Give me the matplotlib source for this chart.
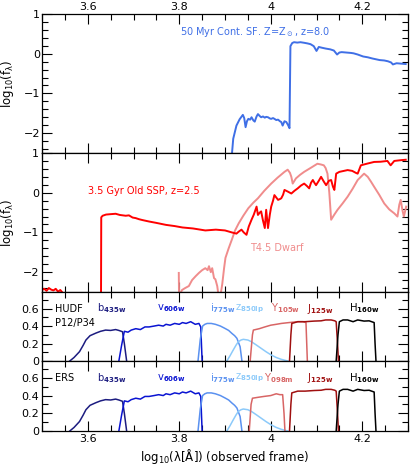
import matplotlib
matplotlib.use("Agg")
import matplotlib.pyplot as plt
from matplotlib.ticker import MultipleLocator

plt.rcParams['font.family'] = ['DejaVu Sans']
plt.rcParams['mathtext.fontset'] = 'dejavusans'

# ---- data ----
sf_x = [3.9146, 3.918, 3.925, 3.932, 3.939, 3.942, 3.945, 3.948, 3.951, 3.955, 3.958, 3.962, 3.965,
        3.969, 3.972, 3.976, 3.979, 3.983, 3.987, 3.990, 3.994, 3.998, 4.001, 4.005, 4.008, 4.012,
        4.016, 4.020, 4.023, 4.026, 4.030, 4.034, 4.038, 4.041, 4.043, 4.047, 4.051, 4.058, 4.065,
        4.073, 4.080, 4.087, 4.094, 4.100, 4.105, 4.112, 4.120, 4.130, 4.138, 4.145, 4.150, 4.155,
        4.165, 4.175, 4.181, 4.190, 4.202, 4.212, 4.222, 4.230, 4.238, 4.248, 4.256, 4.263, 4.267,
        4.275, 4.285, 4.295]
sf_y = [-2.6, -2.14, -1.81, -1.65, -1.54, -1.62, -1.85, -1.70, -1.64, -1.66, -1.60, -1.68, -1.71,
        -1.58, -1.52, -1.57, -1.60, -1.58, -1.61, -1.59, -1.60, -1.63, -1.64, -1.62, -1.64, -1.67,
        -1.66, -1.70, -1.72, -1.81, -1.70, -1.72, -1.80, -1.875, 0.19, 0.27, 0.29, 0.28, 0.29,
        0.275, 0.26, 0.24, 0.19, 0.07, 0.17, 0.15, 0.13, 0.11, 0.08, -0.02, 0.03, 0.04,
        0.03, 0.02, 0.01, -0.02, -0.07, -0.09, -0.12, -0.14, -0.16, -0.17, -0.19, -0.22, -0.27,
        -0.24, -0.25, -0.26]

ssp_x = [3.500, 3.505, 3.510, 3.515, 3.520, 3.525, 3.530, 3.535, 3.540, 3.545, 3.5505, 3.629, 3.6295,
         3.6325, 3.640, 3.650, 3.661, 3.670, 3.683, 3.690, 3.698, 3.705, 3.712, 3.720, 3.734, 3.750,
         3.771, 3.790, 3.807, 3.830, 3.857, 3.880, 3.900, 3.915, 3.925, 3.930, 3.936, 3.941, 3.947,
         3.952, 3.958, 3.963, 3.969, 3.972, 3.976, 3.979, 3.983, 3.987, 3.990, 3.994, 3.998, 4.001,
         4.005, 4.008, 4.012, 4.016, 4.020, 4.023, 4.027, 4.030, 4.037, 4.045, 4.052, 4.059, 4.066,
         4.073, 4.079, 4.084, 4.088, 4.092, 4.096, 4.099, 4.105, 4.110, 4.116, 4.121, 4.127, 4.132,
         4.136, 4.139, 4.143, 4.150, 4.160, 4.168, 4.178, 4.186, 4.190, 4.197, 4.210, 4.226, 4.240,
         4.255, 4.262, 4.270, 4.285, 4.295]
ssp_y = [-2.45, -2.42, -2.47, -2.40, -2.44, -2.46, -2.42, -2.49, -2.45, -2.52, -2.6, -2.6, -0.62,
         -0.58, -0.55, -0.54, -0.53, -0.56, -0.58, -0.57, -0.625, -0.64, -0.667, -0.69, -0.725, -0.76,
         -0.81, -0.84, -0.875, -0.90, -0.95, -0.93, -0.95, -1.00, -1.03, -0.98, -0.93, -1.00, -1.06,
         -0.85, -0.68, -0.55, -0.35, -0.56, -0.50, -0.47, -0.70, -0.89, -0.43, -0.89, -0.55, -0.35,
         -0.20, -0.06, -0.12, -0.18, -0.16, -0.14, -0.05, 0.07, 0.03, -0.02, 0.05, 0.11, 0.18,
         0.23, 0.17, 0.11, 0.25, 0.32, 0.24, 0.19, 0.30, 0.40, 0.28, 0.19, 0.30, 0.32,
         0.15, 0.07, 0.48, 0.525, 0.55, 0.57, 0.55, 0.50, 0.48, 0.69, 0.73, 0.775, 0.78,
         0.80, 0.69, 0.80, 0.82, 0.83]

td_x = [3.799, 3.7995, 3.806, 3.813, 3.821, 3.828, 3.836, 3.843, 3.850, 3.857, 3.862, 3.865, 3.869,
        3.872, 3.876, 3.879, 3.883, 3.886, 3.890, 3.894, 3.898, 3.901, 3.908, 3.915, 3.922, 3.930,
        3.940, 3.951, 3.962, 3.972, 3.986, 4.001, 4.015, 4.030, 4.037, 4.042, 4.045, 4.048, 4.055,
        4.064, 4.073, 4.088, 4.102, 4.110, 4.116, 4.120, 4.124, 4.128, 4.132, 4.139, 4.146, 4.157,
        4.168, 4.179, 4.190, 4.197, 4.204, 4.212, 4.219, 4.226, 4.237, 4.248, 4.259, 4.270, 4.277,
        4.281, 4.284, 4.288, 4.291, 4.296]
td_y = [-2.02, -2.6, -2.45, -2.40, -2.35, -2.20, -2.10, -2.02, -1.95, -1.90, -1.95, -1.85, -2.00,
        -1.90, -2.15, -2.18, -2.35, -2.60, -2.60, -2.30, -1.90, -1.64, -1.40, -1.18, -0.95, -0.77,
        -0.58, -0.39, -0.25, -0.14, 0.05, 0.23, 0.38, 0.525, 0.58, 0.50, 0.40, 0.23, 0.36,
        0.45, 0.525, 0.63, 0.73, 0.71, 0.69, 0.62, 0.48, 0.00, -0.68, -0.55, -0.43, -0.27,
        -0.10, 0.10, 0.32, 0.40, 0.48, 0.40, 0.28, 0.15, -0.05, -0.27, -0.42, -0.52, -0.60,
        -0.30, -0.18, -0.45, -0.60, -0.35]

b_x = [3.5607, 3.570, 3.582, 3.590, 3.596, 3.605, 3.618, 3.628, 3.639, 3.650, 3.661, 3.668, 3.676, 3.680, 3.685]
b_y = [0.0, 0.04, 0.107, 0.18, 0.24, 0.29, 0.32, 0.34, 0.354, 0.35, 0.36, 0.35, 0.335, 0.20, 0.0]

v_x = [3.668, 3.674, 3.680, 3.688, 3.695, 3.705, 3.715, 3.725, 3.734, 3.745, 3.755, 3.765, 3.771,
       3.780, 3.790, 3.800, 3.807, 3.815, 3.825, 3.835, 3.843, 3.847, 3.850]
v_y = [0.0, 0.18, 0.34, 0.33, 0.354, 0.37, 0.36, 0.39, 0.39, 0.40, 0.41, 0.40, 0.42,
       0.41, 0.43, 0.42, 0.44, 0.43, 0.45, 0.42, 0.43, 0.39, 0.0]

i_x = [3.841, 3.846, 3.851, 3.856, 3.861, 3.870, 3.879, 3.890, 3.900, 3.908, 3.915, 3.921, 3.926, 3.933, 3.937]
i_y = [0.0, 0.25, 0.40, 0.42, 0.43, 0.43, 0.42, 0.40, 0.373, 0.35, 0.316, 0.29, 0.26, 0.164, 0.0]

z_x = [3.904, 3.911, 3.918, 3.924, 3.929, 3.935, 3.940, 3.950, 3.958, 3.968, 3.979, 3.990, 4.001, 4.012, 4.023, 4.037]
z_y = [0.0, 0.06, 0.126, 0.18, 0.22, 0.24, 0.248, 0.24, 0.22, 0.185, 0.145, 0.105, 0.069, 0.04, 0.019, 0.0]

y105_x = [3.955, 3.960, 3.962, 3.975, 3.987, 4.000, 4.012, 4.023, 4.040, 4.059, 4.070, 4.077, 4.080]
y105_y = [0.0, 0.30, 0.354, 0.37, 0.39, 0.41, 0.42, 0.43, 0.44, 0.45, 0.45, 0.44, 0.0]

y098_x = [3.953, 3.957, 3.960, 3.972, 3.985, 4.000, 4.012, 4.020, 4.026, 4.029, 4.031]
y098_y = [0.0, 0.30, 0.37, 0.38, 0.39, 0.40, 0.42, 0.41, 0.41, 0.20, 0.0]

j_x = [4.041, 4.044, 4.046, 4.059, 4.075, 4.095, 4.110, 4.120, 4.132, 4.140, 4.143, 4.146, 4.148]
j_y = [0.0, 0.30, 0.43, 0.45, 0.45, 0.457, 0.46, 0.47, 0.47, 0.46, 0.45, 0.20, 0.0]

h_x = [4.143, 4.147, 4.150, 4.158, 4.168, 4.180, 4.190, 4.204, 4.215, 4.226, 4.228, 4.230]
h_y = [0.0, 0.30, 0.45, 0.47, 0.47, 0.45, 0.47, 0.457, 0.46, 0.44, 0.20, 0.0]

xticks = [3.6, 3.8, 4.0, 4.2]
xticklabels = ['3.6', '3.8', '4', '4.2']

# ---- colours ----
c_sf = '#3f6fe6'
c_ssp = '#ff0000'
c_td = '#f08c8c'
c_b = '#1c1c80'
c_v = '#0a14d2'
c_i = '#5a91f0'
c_z = '#8ccafa'
c_y = '#d86565'
c_j = '#a01010'
c_h = '#000000'

W, H = 414, 466
fig = plt.figure(figsize=(W/100, H/100), dpi=100)
left, right = 42/W, 408/W
def ax_at(top_px, bot_px):
    return fig.add_axes([left, 1 - bot_px/H, right-left, (bot_px-top_px)/H])

ax1 = ax_at(14, 153)
ax2 = ax_at(153, 292)
ax3 = ax_at(292, 361)
ax4 = ax_at(361, 431)

for ax in (ax1, ax2, ax3, ax4):
    ax.set_xlim(3.5, 4.3)
    ax.set_xticks(xticks)
    ax.xaxis.set_minor_locator(MultipleLocator(0.05))
    ax.tick_params(which='both', direction='in', top=True, right=True, labelsize=8, width=0.8, pad=2)
    ax.tick_params(which='major', length=7)
    ax.tick_params(which='minor', length=4)
    ax.tick_params(labelbottom=False)
    for s in ax.spines.values():
        s.set_linewidth(0.9)

for ax in (ax1, ax2):
    ax.set_ylim(-2.5, 1)
    ax.set_yticks([-2, -1, 0, 1])
    ax.set_yticklabels(['\u22122', '\u22121', '0', '1'])
    ax.yaxis.set_minor_locator(MultipleLocator(0.2))
    ax.set_ylabel(r'log$_{10}$(f$_\mathrm{\lambda}$)', fontsize=8.5, labelpad=5)

for ax in (ax3, ax4):
    ax.set_ylim(0, 0.79)
    ax.set_yticks([0, 0.2, 0.4, 0.6])
    ax.set_yticklabels(['0', '0.2', '0.4', '0.6'])
    ax.yaxis.set_minor_locator(MultipleLocator(0.1))

ax1.tick_params(labeltop=True, pad=1.5)
ax1.set_xticklabels(xticklabels)
ax4.tick_params(labelbottom=True)
ax4.set_xticklabels(xticklabels)
ax4.set_xlabel('log$_{10}$(λ[Å]) (observed frame)', fontsize=8.5, labelpad=2)

ax1.plot(sf_x, sf_y, color=c_sf, lw=1.4)
ax1.text(3.801, 0.55, r'50 Myr Cont. SF. Z=Z$_\odot$, z=8.0', color=c_sf, fontsize=7, va='center')

ax2.plot(td_x, td_y, color=c_td, lw=1.4)
ax2.plot(ssp_x, ssp_y, color=c_ssp, lw=1.4)
ax2.text(3.6, 0.05, '3.5 Gyr Old SSP, z=2.5', color=c_ssp, fontsize=7, va='center')
ax2.text(3.955, -1.4, 'T4.5 Dwarf', color=c_td, fontsize=7, va='center')

def filters(ax, yx, yy, yname, yxpos):
    ax.plot(b_x, b_y, color=c_b, lw=1.1)
    ax.plot(v_x, v_y, color=c_v, lw=1.1)
    ax.plot(i_x, i_y, color=c_i, lw=1.1)
    ax.plot(z_x, z_y, color=c_z, lw=1.1)
    ax.plot(yx, yy, color=c_y, lw=1.1)
    ax.plot(j_x, j_y, color=c_j, lw=1.1)
    ax.plot(h_x, h_y, color=c_h, lw=1.1)
    fs = 7.2
    ax.text(3.62, 0.6, r'b$_{\mathbf{435w}}$', color=c_b, fontsize=fs, va='center')
    ax.text(3.752, 0.6, r'v$_{\mathbf{606w}}$', color=c_v, fontsize=fs, va='center')
    ax.text(3.868, 0.6, r'i$_{\mathbf{775w}}$', color=c_i, fontsize=fs, va='center')
    ax.text(3.921, 0.6, r'z$_{\mathbf{850lp}}$', color=c_z, fontsize=fs, va='center')
    ax.text(yxpos, 0.6, r'Y$_{\mathbf{%s}}$' % yname, color=c_y, fontsize=fs, va='center')
    ax.text(4.08, 0.6, r'J$_{\mathbf{125w}}$', color=c_j, fontsize=fs, va='center')
    ax.text(4.17, 0.6, r'H$_{\mathbf{160w}}$', color=c_h, fontsize=fs, va='center')

filters(ax3, y105_x, y105_y, '105w', 4.0)
filters(ax4, y098_x, y098_y, '098m', 3.985)
ax3.text(3.528, 0.6, 'HUDF', fontsize=7, va='center')
ax3.text(3.528, 0.44, 'P12/P34', fontsize=7, va='center')
ax4.text(3.528, 0.6, 'ERS', fontsize=7, va='center')

fig.savefig('out.png', dpi=100)
